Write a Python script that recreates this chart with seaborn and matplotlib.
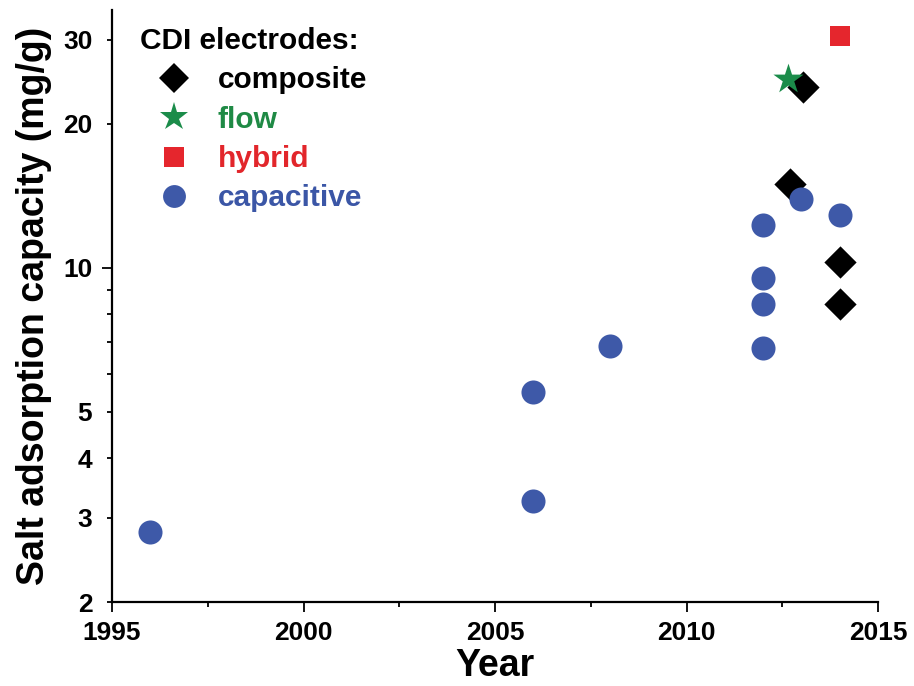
import matplotlib
matplotlib.use("Agg")
import matplotlib.pyplot as plt
from matplotlib.lines import Line2D
from matplotlib.ticker import FixedLocator, FixedFormatter
import seaborn as sns
import pandas as pd

# Salt adsorption capacity of CDI electrodes by publication year
composite_year = [2012.7, 2013.05, 2014.0, 2014.0]
composite_sac = [15.0, 23.9, 10.3, 8.4]

flow_year = [2012.65]
flow_sac = [24.8]

hybrid_year = [2014.0]
hybrid_sac = [30.6]

capacitive_year = [1996.0, 2006.0, 2006.0, 2008.0, 2012.0, 2012.0, 2012.0, 2012.0, 2013.0, 2014.0]
capacitive_sac = [2.8, 5.5, 3.25, 6.85, 12.3, 9.5, 8.4, 6.8, 13.9, 12.9]

types = ["composite", "flow", "hybrid", "capacitive"]
colors = {"composite": "#000000", "flow": "#1b8c4a", "hybrid": "#e5262d", "capacitive": "#3e59a8"}
text_colors = {"composite": "#000000", "flow": "#1f8a45", "hybrid": "#e2262b", "capacitive": "#3b56a6"}
markers = {"composite": "D", "flow": "*", "hybrid": "s", "capacitive": "o"}
sizes = {"composite": 270, "flow": 520, "hybrid": 220, "capacitive": 300}

df = pd.concat([
    pd.DataFrame({"Year": composite_year, "SAC": composite_sac, "type": "composite"}),
    pd.DataFrame({"Year": flow_year, "SAC": flow_sac, "type": "flow"}),
    pd.DataFrame({"Year": hybrid_year, "SAC": hybrid_sac, "type": "hybrid"}),
    pd.DataFrame({"Year": capacitive_year, "SAC": capacitive_sac, "type": "capacitive"}),
], ignore_index=True)

sns.set_style("ticks")
plt.rcParams["font.family"] = ["Liberation Sans", "DejaVu Sans"]
plt.rcParams["font.weight"] = "bold"
plt.rcParams["text.color"] = "black"
plt.rcParams["axes.labelcolor"] = "black"
plt.rcParams["xtick.color"] = "black"
plt.rcParams["ytick.color"] = "black"

fig = plt.figure(figsize=(9.14, 6.86), dpi=100)
ax = fig.add_axes([112 / 914, 1 - 602 / 686, 766 / 914, 592 / 686])

for t in types:
    sub = df[df["type"] == t]
    sns.scatterplot(data=sub, x="Year", y="SAC", ax=ax, color=colors[t],
                    marker=markers[t], s=sizes[t], linewidth=0, legend=False, zorder=3)

ax.set_yscale("log")
ax.set_xlim(1995, 2015)
ax.set_ylim(2, 34.6)

# y axis: long tick at 10, short ticks elsewhere
ax.yaxis.set_major_locator(FixedLocator([10]))
ax.yaxis.set_major_formatter(FixedFormatter(["10"]))
minor_vals = [2, 3, 4, 5, 6, 7, 8, 9, 20, 30]
minor_labels = ["2", "3", "4", "5", "", "", "", "", "20", "30"]
ax.yaxis.set_minor_locator(FixedLocator(minor_vals))
ax.yaxis.set_minor_formatter(FixedFormatter(minor_labels))

ax.set_xticks([1995, 2000, 2005, 2010, 2015])
ax.set_xticks([1997.5, 2002.5, 2007.5, 2012.5], minor=True)

for sp in ["top", "right"]:
    ax.spines[sp].set_visible(False)
for sp in ["left", "bottom"]:
    ax.spines[sp].set_linewidth(1.6)
    ax.spines[sp].set_color("black")

ax.tick_params(axis="both", which="major", length=7, width=1.3, direction="out",
               labelsize=19, pad=7, colors="black")
ax.tick_params(axis="y", which="minor", length=3.6, width=1.3, direction="out",
               labelsize=19, pad=10.6, colors="black")
ax.tick_params(axis="x", which="minor", length=3.6, width=1.3, direction="out", colors="black")
for lab in ax.get_xticklabels() + ax.get_yticklabels() + ax.get_yticklabels(minor=True):
    lab.set_fontweight("bold")
    lab.set_color("black")

ax.set_xlabel("Year", fontsize=27, fontweight="bold", labelpad=2, color="black")
ax.set_ylabel("Salt adsorption capacity (mg/g)", fontsize=27, fontweight="bold",
              labelpad=8, color="black")

handles = [Line2D([], [], linestyle="none", marker=markers[t], color=colors[t],
                  markersize=(sizes[t] ** 0.5) * 0.95, markeredgewidth=0) for t in types]
leg = ax.legend(handles, types, title="CDI electrodes:", frameon=False,
                loc="upper left", bbox_to_anchor=((140 - 112) / 766, (602 - 27) / 592),
                borderaxespad=0, borderpad=0, alignment="left",
                handlelength=2.3, handletextpad=0.3, labelspacing=0.38,
                prop={"size": 21.5, "weight": "bold"},
                title_fontproperties={"size": 21.5, "weight": "bold"})
leg.get_title().set_color("black")
for txt, t in zip(leg.get_texts(), types):
    txt.set_color(text_colors[t])

fig.savefig("out.png", dpi=100, facecolor="white")
